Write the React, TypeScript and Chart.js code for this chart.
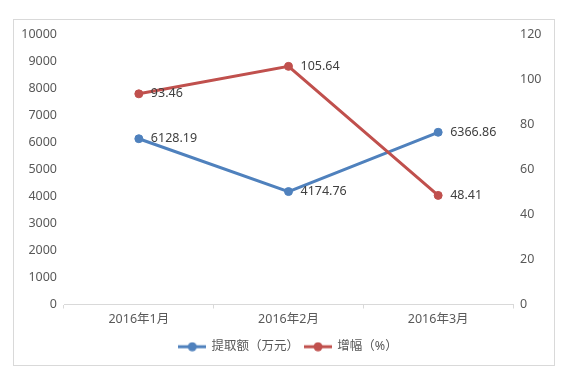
import React, { useEffect, useRef } from "react";
import { Chart, registerables } from "chart.js";

Chart.register(...registerables);

const categories = ["2016年1月", "2016年2月", "2016年3月"];
const amountLabel = "提取额（万元）";
const amountValues = [6128.19, 4174.76, 6366.86];
const growthLabel = "增幅（%）";
const growthValues = [93.46, 105.64, 48.41];

const BLUE = "#4F81BD";
const RED = "#C0504D";
const FONT = '"Noto Sans", "Noto Sans CJK SC", sans-serif';
const FS = 12.5;

function makeIcon(color: string): HTMLCanvasElement {
  const c = document.createElement("canvas");
  c.width = 28;
  c.height = 10;
  const ctx = c.getContext("2d")!;
  ctx.strokeStyle = color;
  ctx.lineWidth = 3;
  ctx.beginPath();
  ctx.moveTo(0, 5);
  ctx.lineTo(28, 5);
  ctx.stroke();
  ctx.fillStyle = color;
  ctx.beginPath();
  ctx.arc(14, 5, 4.5, 0, Math.PI * 2);
  ctx.fill();
  return c;
}

const dataLabels = {
  id: "dataLabels",
  afterDatasetsDraw(chart: any) {
    const ctx = chart.ctx;
    ctx.save();
    ctx.font = `${FS}px ${FONT}`;
    ctx.fillStyle = "#404040";
    ctx.textAlign = "left";
    ctx.textBaseline = "middle";
    chart.data.datasets.forEach((ds: any, di: number) => {
      const meta = chart.getDatasetMeta(di);
      meta.data.forEach((pt: any, i: number) => {
        const v = ds.data[i] as number;
        ctx.fillText(v.toFixed(2), pt.x + 12, pt.y);
      });
    });
    ctx.restore();
  },
};

export default function App() {
  const ref = useRef<HTMLCanvasElement | null>(null);
  useEffect(() => {
    if (!ref.current) return;
    const blueIcon = makeIcon(BLUE);
    const redIcon = makeIcon(RED);
    const tickFont = { family: FONT, size: FS };
    const chart = new Chart(ref.current, {
      type: "line",
      data: {
        labels: categories,
        datasets: [
          {
            label: amountLabel,
            data: amountValues,
            yAxisID: "y",
            borderColor: BLUE,
            backgroundColor: BLUE,
            borderWidth: 3,
            pointRadius: 4,
            pointBorderWidth: 1,
            pointStyle: "circle",
            order: 1,
          },
          {
            label: growthLabel,
            data: growthValues,
            yAxisID: "y1",
            borderColor: RED,
            backgroundColor: RED,
            borderWidth: 3,
            pointRadius: 4,
            pointBorderWidth: 1,
            pointStyle: "circle",
            order: 0,
          },
        ],
      },
      options: {
        responsive: false,
        animation: false,
        layout: { padding: { left: 0, right: 0, top: 34, bottom: 23 } },
        elements: { line: { tension: 0 } },
        plugins: {
          tooltip: { enabled: false },
          legend: {
            position: "bottom",
            labels: {
              usePointStyle: true,
              pointStyleWidth: 26,
              padding: 6,
              color: "#595959",
              font: { family: FONT, size: FS },
              sort: (a: any, b: any) => a.datasetIndex - b.datasetIndex,
              generateLabels: (chart: any) =>
                chart.data.datasets.map((ds: any, i: number) => ({
                  text: ds.label,
                  fillStyle: ds.borderColor,
                  strokeStyle: ds.borderColor,
                  lineWidth: 0,
                  pointStyle: i === 0 ? blueIcon : redIcon,
                  fontColor: "#595959",
                  hidden: false,
                  datasetIndex: i,
                })),
            },
          },
        },
        scales: {
          x: {
            type: "category",
            offset: true,
            grid: {
              display: true,
              drawOnChartArea: false,
              drawTicks: true,
              tickLength: 4,
              color: "#d9d9d9",
              offset: true,
            },
            border: { display: true, color: "#d9d9d9" },
            ticks: {
              color: "#595959",
              font: tickFont,
              padding: 3,
              maxRotation: 0,
            },
            afterFit: (s: any) => {
              s.height = 30;
            },
          },
          y: {
            position: "left",
            min: 0,
            max: 10000,
            grid: { display: false, drawTicks: false },
            border: { display: false },
            ticks: {
              stepSize: 1000,
              padding: 7,
              color: "#595959",
              font: tickFont,
              callback: (v: any) => String(v),
            },
            afterFit: (s: any) => {
              s.width = 64;
            },
          },
          y1: {
            position: "right",
            min: 0,
            max: 120,
            grid: { display: false, drawTicks: false },
            border: { display: false },
            ticks: {
              stepSize: 20,
              padding: 7,
              color: "#595959",
              font: tickFont,
              callback: (v: any) => String(v),
            },
            afterFit: (s: any) => {
              s.width = 64;
            },
          },
        },
      },
      plugins: [dataLabels],
    });
    return () => chart.destroy();
  }, []);

  return (
    <div style={{ position: "absolute", left: 0, top: 0, width: 577, height: 386, background: "#fff" }}>
      <div
        style={{
          position: "absolute",
          left: 13,
          top: 19,
          width: 542,
          height: 347,
          border: "1px solid #d9d9d9",
          boxSizing: "border-box",
        }}
      />
      <canvas ref={ref} width={577} height={386} style={{ position: "absolute", left: 0, top: 0 }} />
    </div>
  );
}
